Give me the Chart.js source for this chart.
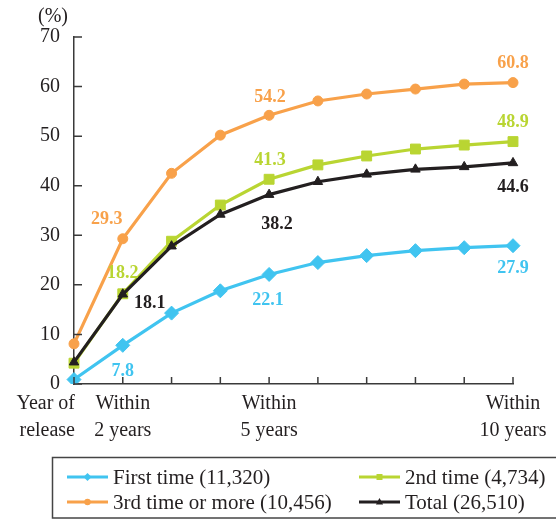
<!DOCTYPE html>
<html>
<head>
<meta charset="utf-8">
<script src="https://cdn.jsdelivr.net/npm/chart.js@4/dist/chart.umd.min.js"></script>
<style>
html,body{margin:0;padding:0;background:#fff;overflow:hidden}
#wrap{position:relative;width:556px;height:519px}
</style>
</head>
<body>
<div id="wrap"><canvas id="c" width="556" height="519"></canvas></div>
<script>
// categories: year of release, then within 2..10 years
const categories = ['Year of release','Within 2 years','Within 3 years','Within 4 years','Within 5 years',
    'Within 6 years','Within 7 years','Within 8 years','Within 9 years','Within 10 years'];
const xTickLabels = [['Year of','release'],['Within','2 years'],null,null,['Within','5 years'],null,null,null,null,['Within','10 years']];
const yTicks = [0,10,20,30,40,50,60,70];

const firstTime   = [0.9, 7.8, 14.3, 18.8, 22.1, 24.5, 25.9, 26.9, 27.5, 27.9];
const secondTime  = [4.2, 18.2, 28.8, 36.1, 41.3, 44.2, 46.0, 47.4, 48.2, 48.9];
const thirdOrMore = [8.1, 29.3, 42.5, 50.2, 54.2, 57.1, 58.5, 59.5, 60.5, 60.8];
const total       = [4.4, 18.1, 27.8, 34.2, 38.2, 40.8, 42.3, 43.3, 43.8, 44.6];

const seriesNames = ['First time (11,320)','2nd time (4,734)','3rd time or more (10,456)','Total (26,510)'];

const BLUE = '#40c4f0', GREEN = '#b9d532', ORANGE = '#f8a14a', BLACK = '#231f20', AXIS = '#3a3a3a';
const SERIF = '"Liberation Serif", "Times New Roman", serif';

// value labels: which series / point, and where to put them relative to the point
const valueLabels = [
    {s:0, i:1, dx:0, dy:26}, {s:0, i:4, dx:-1, dy:26}, {s:0, i:9, dx:0, dy:23},
    {s:1, i:1, dx:0, dy:-20}, {s:1, i:4, dx:1, dy:-19}, {s:1, i:9, dx:0, dy:-19},
    {s:2, i:1, dx:-16, dy:-19}, {s:2, i:4, dx:1, dy:-18}, {s:2, i:9, dx:0, dy:-19},
    {s:3, i:1, dx:27, dy:9}, {s:3, i:4, dx:8, dy:30}, {s:3, i:9, dx:0, dy:24}
];
const seriesData = [firstTime, secondTime, thirdOrMore, total];
const seriesColors = [BLUE, GREEN, ORANGE, BLACK];
const seriesShapes = ['diamond','square','circle','triangle'];

function marker(ctx, shape, x, y, r, color){
    ctx.fillStyle = color;
    ctx.beginPath();
    if(shape==='diamond'){ ctx.moveTo(x,y-r); ctx.lineTo(x+r,y); ctx.lineTo(x,y+r); ctx.lineTo(x-r,y); }
    else if(shape==='square'){ ctx.rect(x-r*0.75,y-r*0.75,r*1.5,r*1.5); }
    else if(shape==='circle'){ ctx.arc(x,y,r*0.8,0,Math.PI*2); }
    else { ctx.moveTo(x,y-r); ctx.lineTo(x+r*0.9,y+r*0.6); ctx.lineTo(x-r*0.9,y+r*0.6); }
    ctx.closePath();
    ctx.fill();
}

const overlay = {
    id:'overlay',
    afterDraw(chart){
        const ctx = chart.ctx, xs = chart.scales.x, ys = chart.scales.y, a = chart.chartArea;
        ctx.save();
        // inward tick marks
        ctx.strokeStyle = AXIS; ctx.lineWidth = 1.5;
        ctx.beginPath();
        categories.forEach((c,i)=>{
            const px = xs.getPixelForValue(i);
            ctx.moveTo(px, a.bottom); ctx.lineTo(px, a.bottom-7);
        });
        yTicks.forEach(v=>{
            const py = ys.getPixelForValue(v);
            ctx.moveTo(a.left, py); ctx.lineTo(a.left+8, py);
        });
        ctx.stroke();

        // unit
        ctx.fillStyle = BLACK;
        ctx.font = '20px ' + SERIF;
        ctx.textAlign = 'center'; ctx.textBaseline = 'middle';
        ctx.fillText('(%)', 53, 17);

        // x labels
        xTickLabels.forEach((lines,i)=>{
            if(!lines) return;
            const px = xs.getPixelForValue(i);
            if(i===0){ ctx.textAlign = 'right'; }
            else { ctx.textAlign = 'center'; }
            const x0 = i===0 ? px+1 : px;
            lines.forEach((t,k)=> ctx.fillText(t, x0, a.bottom + 20 + k*27));
        });

        // value labels
        ctx.font = 'bold 18px ' + SERIF;
        ctx.textAlign = 'center';
        valueLabels.forEach(l=>{
            const v = seriesData[l.s][l.i];
            ctx.fillStyle = seriesColors[l.s];
            ctx.fillText(v.toFixed(1), xs.getPixelForValue(l.i)+l.dx, ys.getPixelForValue(v)+l.dy);
        });

        // legend box
        ctx.strokeStyle = '#444'; ctx.lineWidth = 1.5;
        ctx.strokeRect(52.5, 457.5, 520, 60.5);
        const spots = [[67,477],[359,477],[67,502],[359,502]];
        const order = [0,1,2,3];
        ctx.font = '21px ' + SERIF;
        ctx.textAlign = 'left';
        order.forEach((s,k)=>{
            const [lx,ly] = spots[k];
            ctx.strokeStyle = seriesColors[s]; ctx.lineWidth = 3;
            ctx.beginPath(); ctx.moveTo(lx,ly); ctx.lineTo(lx+41,ly); ctx.stroke();
            marker(ctx, seriesShapes[s], lx+20.5, ly, 4, seriesColors[s]);
            ctx.fillStyle = BLACK;
            ctx.fillText(seriesNames[s], lx+46, ly+1);
        });
        ctx.restore();
    }
};

function ds(label, data, color, style, radius){
    return {
        label, data,
        borderColor: color, backgroundColor: color,
        pointBackgroundColor: color, pointBorderColor: color,
        pointStyle: style, pointRadius: radius, pointBorderWidth: 1,
        borderWidth: 3.2, tension: 0, fill: false
    };
}

new Chart(document.getElementById('c'), {
    type:'line',
    data:{
        labels: categories,
        datasets:[
            ds(seriesNames[3], total, BLACK, 'triangle', 5.5),
            ds(seriesNames[1], secondTime, GREEN, 'rect', 7),
            ds(seriesNames[2], thirdOrMore, ORANGE, 'circle', 5),
            ds(seriesNames[0], firstTime, BLUE, 'rectRot', 7)
        ]
    },
    options:{
        responsive:false, animation:false,
        layout:{padding:{top:37, right:43, left:0, bottom:0}},
        plugins:{legend:{display:false}, tooltip:{enabled:false}},
        scales:{
            x:{
                offset:false,
                grid:{display:false, drawTicks:false},
                border:{display:true, color:AXIS, width:1.5},
                ticks:{display:false},
                afterFit: s => { s.height = 519 - 384; }
            },
            y:{
                min:0, max:70,
                grid:{display:false, drawTicks:false},
                border:{display:true, color:AXIS, width:1.5},
                ticks:{stepSize:10, padding:14, color:BLACK, font:{family:SERIF, size:20}},
                afterFit: s => { s.width = 74; }
            }
        }
    },
    plugins:[overlay]
});
</script>
</body>
</html>
